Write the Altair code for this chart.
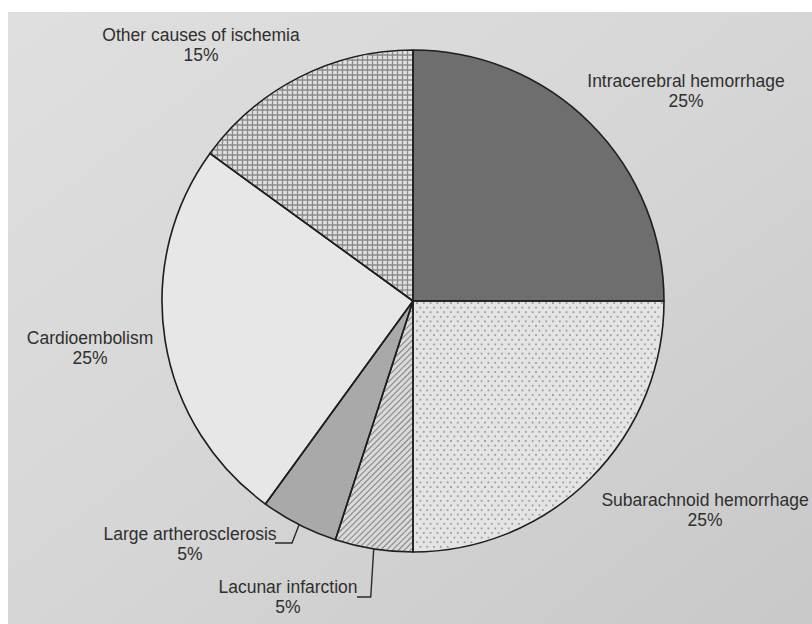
import math
import altair as alt
import numpy as np
import pandas as pd

# Stroke subtypes and their share of all strokes (percent), clockwise from 12 o'clock
categories = [
    "Intracerebral hemorrhage",
    "Subarachnoid hemorrhage",
    "Lacunar infarction",
    "Large artherosclerosis",
    "Cardioembolism",
    "Other causes of ischemia",
]
shares = [25, 25, 5, 5, 25, 15]
# base fill of each wedge (textured wedges get their pattern drawn on top)
fills = ["#6e6e6e", "#e4e4e4", "#dadada", "#a9a9a9", "#e7e7e7", "#e0e0e0"]
# texture of each wedge: solid, dots, hatch or grid
textures = ["solid", "dots", "hatch", "solid", "solid", "grid"]

# Layout of the figure (pixels)
W, H = 812, 624
CX, CY, R = 413, 301, 251
FONT = "Liberation Sans"

# label block anchors: centre x and baseline of the first line
label_x = [686, 705, 288, 190, 90, 201]
label_y = [87, 506, 593, 540, 344, 41]

pie = pd.DataFrame({
    "cause": categories,
    "share": shares,
    "idx": list(range(len(categories))),
    "fill": fills,
})

labels = pd.DataFrame({
    "text": [f"{c}\n{s}%" for c, s in zip(categories, shares)],
    "lx": label_x,
    "ly": label_y,
})

# wedge angles (radians, clockwise from 12 o'clock, as the arc mark draws them)
total = sum(shares)
bounds = []
acc = 0
for s in shares:
    bounds.append((acc / total * 2 * math.pi, (acc + s) / total * 2 * math.pi))
    acc += s


def rim_point(i, r=R):
    a = (bounds[i][0] + bounds[i][1]) / 2
    return CX + r * math.sin(a), CY - r * math.cos(a)


def inside(px, py, i, margin=1.2):
    dx, dy = px - CX, py - CY
    if dx * dx + dy * dy > (R - margin) ** 2:
        return False
    a0, a1 = bounds[i]
    n0 = (math.cos(a0), math.sin(a0))
    n1 = (math.cos(a1), math.sin(a1))
    return dx * n0[0] + dy * n0[1] >= margin and dx * n1[0] + dy * n1[1] <= -margin


def clip_line(p0, d, i, margin=1.0):
    """Part of the infinite line p0 + t*d lying inside (convex) wedge i."""
    ox, oy = p0[0] - CX, p0[1] - CY
    a = d[0] ** 2 + d[1] ** 2
    b = 2 * (ox * d[0] + oy * d[1])
    c = ox * ox + oy * oy - (R - margin) ** 2
    disc = b * b - 4 * a * c
    if disc <= 0:
        return None
    lo = (-b - math.sqrt(disc)) / (2 * a)
    hi = (-b + math.sqrt(disc)) / (2 * a)
    a0, a1 = bounds[i]
    for (nx, ny), sign in (((math.cos(a0), math.sin(a0)), 1), ((math.cos(a1), math.sin(a1)), -1)):
        # sign * ((o + t d) . n) >= margin
        k = sign * (ox * nx + oy * ny) - margin
        m = sign * (d[0] * nx + d[1] * ny)
        if abs(m) < 1e-12:
            if k < 0:
                return None
            continue
        t = -k / m
        if m > 0:
            lo = max(lo, t)
        else:
            hi = min(hi, t)
    if hi - lo < 0.5:
        return None
    return (p0[0] + lo * d[0], p0[1] + lo * d[1], p0[0] + hi * d[0], p0[1] + hi * d[1])


# texture geometry for the patterned wedges
dot_rows, seg_rows = [], []
for i, tex in enumerate(textures):
    if tex == "dots":
        for r_i, yy in enumerate(np.arange(CY - R, CY + R, 4.6)):
            off = 0 if r_i % 2 == 0 else 3.4
            for xx in np.arange(CX - R + off, CX + R, 6.8):
                if inside(xx, yy, i, 2.0):
                    dot_rows.append({"dx": xx, "dy": yy})
    elif tex == "grid":
        for yy in np.arange(CY - R, CY + R, 5.0):
            seg = clip_line((CX, yy), (1.0, 0.0), i)
            if seg:
                seg_rows.append(dict(zip(["sx", "sy", "sx2", "sy2"], seg), kind="grid"))
        for xx in np.arange(CX - R + 0.5, CX + R, 5.0):
            seg = clip_line((xx, CY), (0.0, 1.0), i)
            if seg:
                seg_rows.append(dict(zip(["sx", "sy", "sx2", "sy2"], seg), kind="grid"))
    elif tex == "hatch":
        step = 4.2 * math.sqrt(2)
        for cc in np.arange(CX + CY - 2 * R, CX + CY + 2 * R, step):
            seg = clip_line((cc - CY, CY), (1.0, -1.0), i)
            if seg:
                seg_rows.append(dict(zip(["sx", "sy", "sx2", "sy2"], seg), kind="hatch"))

dots = pd.DataFrame(dot_rows)
segments = pd.DataFrame(seg_rows)

# Leader lines for the two thin slices start on the rim at the slice mid-angle
i_lac = categories.index("Lacunar infarction")
i_lar = categories.index("Large artherosclerosis")
lx0, ly0 = rim_point(i_lac)
ax0, ay0 = rim_point(i_lar)
leaders = pd.DataFrame({
    "name": ["lac"] * 3 + ["lar"] * 3,
    "step": [0, 1, 2] * 2,
    "px": [lx0, lx0 - 3, 357, ax0, ax0 - 7, 275],
    "py": [ly0, 597, 597, ay0, 543, 543],
})

background = alt.Chart(pd.DataFrame({"a": [0]})).mark_rect(
    fill=alt.Gradient(
        gradient="linear",
        x1=0, y1=0, x2=1, y2=1,
        stops=[
            alt.GradientStop(color="#dfdfdf", offset=0),
            alt.GradientStop(color="#d6d6d6", offset=0.5),
            alt.GradientStop(color="#c8c8c8", offset=1),
        ],
    )
).encode(
    x=alt.value(8), x2=alt.value(W), y=alt.value(12), y2=alt.value(H)
)

wedge_fill = alt.Chart(pie).mark_arc(outerRadius=R).encode(
    theta=alt.Theta("share:Q", stack=True),
    order=alt.Order("idx:Q"),
    fill=alt.Fill("fill:N", scale=None),
    x=alt.value(CX),
    y=alt.value(CY),
)

dot_layer = alt.Chart(dots).mark_square(
    size=3.2, color="#9c9c9c", opacity=1
).encode(
    x=alt.X("dx:Q", scale=None),
    y=alt.Y("dy:Q", scale=None),
)

seg_layer = alt.Chart(segments).mark_rule(strokeCap="butt").encode(
    x=alt.X("sx:Q", scale=None),
    y=alt.Y("sy:Q", scale=None),
    x2="sx2:Q",
    y2="sy2:Q",
    color=alt.Color(
        "kind:N",
        scale=alt.Scale(domain=["grid", "hatch"], range=["#8a8a8a", "#8e8e8e"]),
        legend=None,
    ),
    strokeWidth=alt.StrokeWidth(
        "kind:N",
        scale=alt.Scale(domain=["grid", "hatch"], range=[1.3, 1.2]),
        legend=None,
    ),
)

wedge_edges = alt.Chart(pie).mark_arc(
    outerRadius=R, fillOpacity=0, stroke="#1e1e1e", strokeWidth=1.6, strokeJoin="round"
).encode(
    theta=alt.Theta("share:Q", stack=True),
    order=alt.Order("idx:Q"),
    x=alt.value(CX),
    y=alt.value(CY),
)

text = alt.Chart(labels).mark_text(
    font=FONT, fontSize=17.5, color="#2f2f2f", align="center",
    baseline="alphabetic", lineBreak="\n", lineHeight=20,
).encode(
    x=alt.X("lx:Q", scale=None),
    y=alt.Y("ly:Q", scale=None),
    text="text:N",
)

leader_lines = alt.Chart(leaders).mark_line(
    color="#2a2a2a", strokeWidth=1.4
).encode(
    x=alt.X("px:Q", scale=None),
    y=alt.Y("py:Q", scale=None),
    detail="name:N",
    order="step:Q",
)

chart = alt.layer(
    background, wedge_fill, dot_layer, seg_layer, wedge_edges, leader_lines, text
).properties(
    width=W, height=H, padding=0, autosize=alt.AutoSizeParams(type="none"),
    background="#ffffff",
).configure_view(stroke=None)

chart.save("out.html", embed_options={"renderer": "svg", "actions": False})
